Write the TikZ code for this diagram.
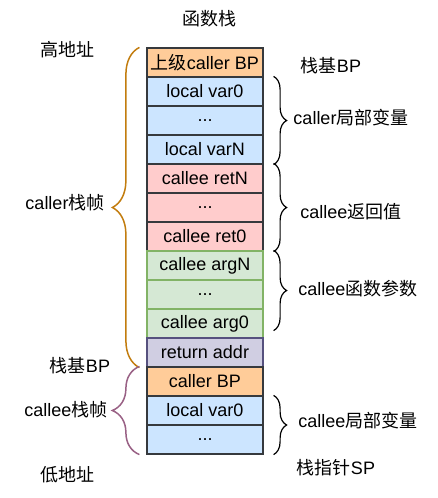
\documentclass[tikz,border=0pt]{standalone}
\usepackage{fontspec}
\setmainfont{Liberation Sans}
\newfontfamily\cjk{Noto Sans CJK SC}
\usepackage{tikz}
\usetikzlibrary{decorations.pathreplacing}

\definecolor{bpfill}{HTML}{FFCC99}
\definecolor{varfill}{HTML}{CCE5FF}
\definecolor{retfill}{HTML}{FFCCCC}
\definecolor{argfill}{HTML}{D5E8D4}
\definecolor{argline}{HTML}{82B366}
\definecolor{addrfill}{HTML}{D0CEE2}
\definecolor{addrline}{HTML}{56517E}
\definecolor{cellline}{HTML}{36393D}
\definecolor{callerbr}{HTML}{C27C0E}
\definecolor{calleebr}{HTML}{996185}

\begin{document}
\begin{tikzpicture}[x=1pt, y=-1pt, font=\fontsize{18}{21}\selectfont,
    cell/.style={draw=cellline, line width=1.2pt, minimum width=116pt,
      minimum height=29pt, inner sep=0pt},
    lbl/.style={inner sep=0pt},
    rbrace/.style={decorate, decoration={brace, amplitude=13pt}, line width=1.2pt},
    lbrace/.style={decorate, decoration={brace, amplitude=27pt}, line width=1.5pt}]
      \useasboundingbox (0, 0) rectangle (438, 498);

      \node[lbl] (Title) at (209, 19) {\cjk 函数栈};

      \node[cell, fill=bpfill] (OldBP) at (205, 62.5) {{\cjk 上级}caller BP};
      \node[cell, fill=varfill] (VarA) at (205, 91.5) {local var0};
      \node[cell, fill=varfill] (VarB) at (205, 120.5) {...};
      \node[cell, fill=varfill] (VarC) at (205, 149.5) {local varN};
      \node[cell, fill=retfill] (RetA) at (205, 178.5) {callee retN};
      \node[cell, fill=retfill] (RetB) at (205, 207.5) {...};
      \node[cell, fill=retfill] (RetC) at (205, 236.5) {callee ret0};
      \node[cell, fill=argfill, draw=argline] (ArgA) at (205, 265.5) {callee argN};
      \node[cell, fill=argfill, draw=argline] (ArgB) at (205, 294.5) {...};
      \node[cell, fill=argfill, draw=argline] (ArgC) at (205, 323.5) {callee arg0};
      \node[cell, fill=addrfill, draw=addrline] (Addr) at (205, 352.5) {return addr};
      \node[cell, fill=bpfill] (BP) at (205, 381.5) {caller BP};
      \node[cell, fill=varfill] (LocA) at (205, 410.5) {local var0};
      \node[cell, fill=varfill] (LocB) at (205, 439.5) {...};

      \node[lbl] (High) at (67, 50) {\cjk 高地址};
      \node[lbl] (CallerFrame) at (65, 203) {caller{\cjk 栈帧}};
      \node[lbl] (BaseL) at (80, 366) {{\cjk 栈基}BP};
      \node[lbl] (CalleeFrame) at (66, 410) {callee{\cjk 栈帧}};
      \node[lbl] (Low) at (67, 475) {\cjk 低地址};

      \node[lbl] (BaseR) at (331, 66) {{\cjk 栈基}BP};
      \node[lbl] (CallerVars) at (351, 118) {caller{\cjk 局部变量}};
      \node[lbl] (CalleeRets) at (351, 212) {callee{\cjk 返回值}};
      \node[lbl] (CalleeArgs) at (358, 289) {callee{\cjk 函数参数}};
      \node[lbl] (CalleeVars) at (358, 421) {callee{\cjk 局部变量}};
      \node[lbl] (SP) at (336, 468) {{\cjk 栈指针}SP};

      \draw[lbrace, callerbr] ([xshift=-7pt]Addr.south west) -- ([xshift=-7pt]OldBP.north west);
      \draw[lbrace, calleebr] ([xshift=-7pt]LocB.south west) -- ([xshift=-7pt]BP.north west);

      \draw[rbrace] ([xshift=10pt]VarA.north east) -- ([xshift=10pt]VarC.south east);
      \draw[rbrace] ([xshift=10pt]RetA.north east) -- ([xshift=10pt]RetC.south east);
      \draw[rbrace] ([xshift=10pt]ArgA.north east) -- ([xshift=10pt, yshift=8pt]ArgC.south east);
      \draw[rbrace] ([xshift=10pt]LocA.north east) -- ([xshift=10pt]LocB.south east);
    \end{tikzpicture}
\end{document}
